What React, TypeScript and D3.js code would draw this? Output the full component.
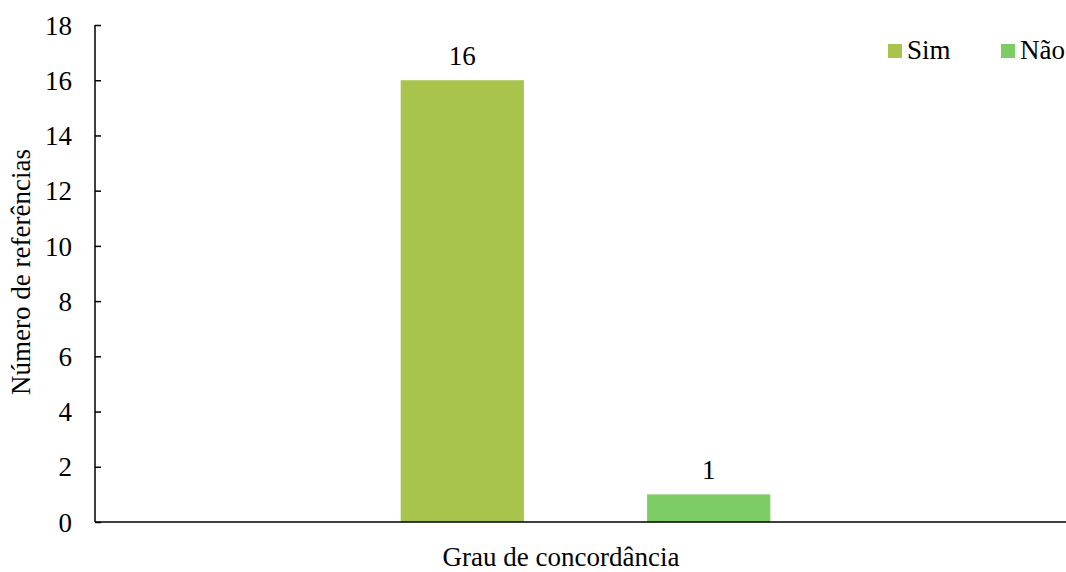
import React, { useEffect, useRef } from 'react';
import * as d3 from 'd3';

const categories = ['Grau de concordância'];
const seriesNames = ['Sim', 'Não'];
const seriesValues = [16, 1];
const seriesColors = ['#A9C44C', '#7ECC64'];
const yTicks = [0, 2, 4, 6, 8, 10, 12, 14, 16, 18];

const FONT = "'Liberation Serif', 'Times New Roman', serif";
const FS = 27;

const App: React.FC = () => {
  const ref = useRef<SVGSVGElement | null>(null);

  useEffect(() => {
    if (!ref.current) return;
    const svg = d3.select(ref.current);
    svg.selectAll('*').remove();

    const width = 1066;
    const height = 572;
    const left = 95;
    const right = 1066;
    const top = 25;
    const bottom = 522;

    const x0 = d3.scaleBand().domain(categories).range([left, right]);
    const x1 = d3.scaleBand()
      .domain(seriesNames)
      .range([10, x0.bandwidth()])
      .paddingInner(0.5)
      .paddingOuter(1.2);
    const y = d3.scaleLinear().domain([0, 18]).range([bottom, top]);

    svg.attr('width', width).attr('height', height);

    // y axis
    const yAxis = svg.append('g')
      .attr('transform', `translate(${left},0)`)
      .call(d3.axisRight(y).tickValues(yTicks).tickSize(6).tickFormat(d3.format('d')));
    yAxis.attr('font-family', FONT).attr('font-size', FS);
    yAxis.select('.domain').remove();
    yAxis.selectAll('line').attr('stroke', '#000').attr('stroke-width', 1.5);
    yAxis.selectAll('text')
      .attr('x', -23)
      .attr('dy', '0.34em')
      .attr('text-anchor', 'end')
      .attr('fill', '#000');
    svg.append('line')
      .attr('x1', left).attr('x2', left)
      .attr('y1', y(18)).attr('y2', bottom)
      .attr('stroke', '#000').attr('stroke-width', 1.5);

    // bars
    const g = svg.append('g').attr('transform', `translate(${x0(categories[0])},0)`);
    seriesNames.forEach((s, i) => {
      const bx = x1(s) as number;
      g.append('rect')
        .attr('x', bx)
        .attr('y', y(seriesValues[i]))
        .attr('width', x1.bandwidth())
        .attr('height', bottom - y(seriesValues[i]))
        .attr('fill', seriesColors[i]);
      g.append('text')
        .attr('x', bx + x1.bandwidth() / 2)
        .attr('y', y(seriesValues[i]) - 15)
        .attr('text-anchor', 'middle')
        .attr('font-family', FONT)
        .attr('font-size', FS)
        .text(seriesValues[i]);
    });

    // x axis line
    svg.append('line')
      .attr('x1', left).attr('x2', right)
      .attr('y1', bottom).attr('y2', bottom)
      .attr('stroke', '#000').attr('stroke-width', 1.5);

    // axis titles
    svg.append('text')
      .attr('x', 561)
      .attr('y', 566)
      .attr('text-anchor', 'middle')
      .attr('font-family', FONT)
      .attr('font-size', FS)
      .text(categories[0]);
    svg.append('text')
      .attr('transform', `translate(30,${272}) rotate(-90)`)
      .attr('text-anchor', 'middle')
      .attr('font-family', FONT)
      .attr('font-size', FS)
      .text('Número de referências');

    // legend
    const legendX = [888, 1001];
    seriesNames.forEach((s, i) => {
      svg.append('rect')
        .attr('x', legendX[i]).attr('y', 44)
        .attr('width', 14).attr('height', 14)
        .attr('fill', seriesColors[i]);
      svg.append('text')
        .attr('x', legendX[i] + 19).attr('y', 59)
        .attr('font-family', FONT)
        .attr('font-size', FS)
        .text(s);
    });
  }, []);

  return (
    <div style={{ position: 'absolute', left: 0, top: 0 }}>
      <svg ref={ref}></svg>
    </div>
  );
};

export default App;
